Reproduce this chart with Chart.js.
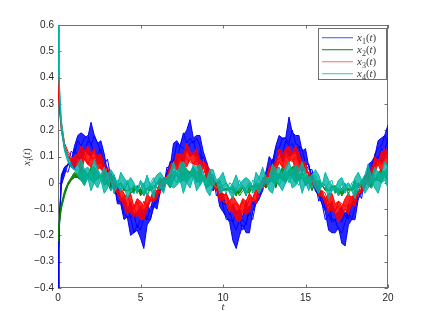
<!DOCTYPE html>
<html>
<head>
<meta charset="utf-8">
<script src="https://cdn.jsdelivr.net/npm/chart.js@4/dist/chart.umd.min.js"></script>
<style>
html,body{margin:0;padding:0;background:#fff;}
canvas{display:block;}
</style>
</head>
<body>
<canvas id="c" width="430" height="319"></canvas>
<script>
// time axis (t)
const times = [0,0.05,0.1,0.2,0.4,0.6,0.8,1,1.2,1.4,1.6,1.8,2,
2.2,2.4,2.6,2.8,3,3.2,3.4,3.6,3.8,4,
4.2,4.4,4.6,4.8,5,5.2,5.4,5.6,5.8,6,
6.2,6.4,6.6,6.8,7,7.2,7.4,7.6,7.8,8,
8.2,8.4,8.6,8.8,9,9.2,9.4,9.6,9.8,10,
10.2,10.4,10.6,10.8,11,11.2,11.4,11.6,11.8,12,
12.2,12.4,12.6,12.8,13,13.2,13.4,13.6,13.8,14,
14.2,14.4,14.6,14.8,15,15.2,15.4,15.6,15.8,16,
16.2,16.4,16.6,16.8,17,17.2,17.4,17.6,17.8,18,
18.2,18.4,18.6,18.8,19,19.2,19.4,19.6,19.8,20];

// series values, in units of 0.01 (several noisy runs per state)
const x1_run1 = [-40,-24,-13,
-1,3,7,6,5,10,7,13,11,10,
13,7,8,5,6,-2,-1,-1,-6,-6,
-11,-7,-12,-11,-9,-12,-8,-11,-4,-4,
-3,2,1,8,7,7,10,7,13,10,
11,10,6,10,4,5,-3,-1,-4,-4,
-9,-12,-8,-11,-10,-13,-7,-10,-7,-7,
-1,0,-2,6,5,7,12,8,12,10,
11,12,8,4,7,7,-1,-1,-1,-6,
-6,-11,-7,-12,-11,-9,-13,-8,-9,-4,
-6,-2,3,1,6,5,10,7,10,12];
const x1_run2 = [-40,-26,-15,
1,5,4,8,13,10,13,11,16,15,
11,11,13,6,3,4,0,-7,-7,-7,
-10,-13,-12,-17,-14,-10,-14,-9,-9,-3,
-3,-2,6,5,9,8,14,13,12,15,
16,11,11,6,8,4,-3,-1,-6,-8,
-8,-11,-15,-11,-15,-14,-16,-9,-8,-8,
-6,2,2,4,9,8,12,10,16,14,
15,12,14,8,7,7,1,0,-7,-5,
-10,-8,-14,-14,-13,-15,-11,-14,-7,-8,
-4,-6,2,2,6,10,9,13,12,17];
const x1_run3 = [-40,-23,-12,
2,6,7,12,11,16,14,17,18,14,
18,15,11,7,9,2,-4,-4,-6,-12,
-13,-13,-19,-16,-18,-13,-14,-14,-9,-7,
-1,-3,4,8,8,15,14,19,15,17,
15,17,14,7,7,3,3,-5,-3,-9,
-14,-14,-15,-18,-14,-18,-15,-11,-14,-7,
-4,-3,4,6,6,13,13,17,17,15,
20,15,14,13,7,5,5,-3,-4,-8,
-14,-12,-15,-14,-18,-19,-15,-11,-14,-9,
-6,-4,-2,6,4,11,13,14,18,15];
const x1_run4 = [-40,-25,-14,
3,6,7,8,14,18,19,18,17,23,
18,15,16,11,4,3,0,-8,-8,-14,
-13,-20,-19,-18,-21,-25,-16,-14,-9,-10,
-3,0,4,6,15,16,14,18,20,24,
17,18,18,12,8,2,2,-2,-9,-11,
-13,-15,-22,-25,-20,-16,-19,-19,-11,-8,
-6,-3,4,10,8,14,18,17,17,25,
19,18,18,12,13,6,3,-3,-5,-8,
-11,-18,-19,-19,-17,-23,-24,-16,-14,-14,
-6,-3,-1,7,8,10,16,17,18,22];

const x2_run1 = [-21,-17,-14,
-9,-4,-1,1,2,2,1,-1,2,1,
0,2,2,-1,0,-3,0,-2,0,-3,
-3,-2,-4,-1,-5,-3,-2,-3,-2,0,
-2,-1,0,-2,1,3,0,1,0,2,
3,0,1,1,-2,-1,0,-2,0,-2,
-3,-2,-3,-5,-2,-1,-3,-4,-1,-3,
-2,1,-2,0,1,-2,2,1,0,3,
2,0,1,2,-1,0,-3,0,-2,-1,
-3,-3,-1,-4,-2,-5,-3,-2,-3,-2,
0,-2,0,-1,-2,1,1,0,3,0];
const x2_run2 = [-22,-18,-15,
-10,-5,-1,1,3,2,1,4,2,5,
3,1,3,2,-1,2,-1,0,-1,-3,
0,-4,-3,-2,-4,-1,-5,-2,-1,-2,
-1,2,0,2,2,0,4,2,5,3,
2,4,0,2,3,0,0,0,-2,-1,
0,-3,-4,-2,-5,-3,-2,0,-3,-1,
0,-1,0,3,1,3,2,1,4,2,
3,4,1,2,4,0,1,0,-3,0,
-1,-3,-3,-2,-5,-2,-1,-4,-2,-3,
-1,0,-1,3,1,1,3,1,4,3];
const x2_run3 = [-20,-16,-13,
-8,-3,0,2,4,3,6,5,3,6,
6,4,2,4,1,2,3,-1,0,-2,
-3,-3,-1,-4,-2,-5,-2,-1,-2,0,
2,0,2,2,4,4,2,7,5,4,
6,4,5,2,3,4,0,0,1,-3,
-2,-3,-1,-3,-4,-2,-5,-1,-2,0,
-1,1,3,1,5,4,3,6,3,5,
6,7,3,4,2,3,2,-1,1,-1,
-2,-3,-2,-1,-4,-3,-2,-3,-2,1,
-2,1,1,1,5,1,4,5,4,6];

const x3_run1 = [40,33,28,
21,13,10,8,6,7,4,9,7,6,
8,5,6,2,2,3,-2,-4,-2,-4,
-6,-4,-9,-6,-7,-9,-4,-6,-3,-3,
1,-2,3,2,6,5,4,8,6,9,
7,7,3,6,2,3,0,-3,-1,-5,
-4,-7,-5,-7,-9,-6,-7,-4,-6,-3,
-3,1,1,0,5,4,8,6,5,8,
9,5,4,6,4,4,-1,1,-3,-3,
-6,-4,-4,-8,-7,-9,-6,-4,-6,-3,
-3,-3,1,4,2,4,7,4,8,6];
const x3_run2 = [40,35,29,
22,14,11,9,8,8,7,11,7,10,
8,9,5,6,1,1,1,-4,-6,-5,
-5,-8,-10,-7,-11,-7,-9,-6,-3,-5,
-1,-1,2,6,4,5,9,11,9,8,
7,9,9,4,4,0,2,-1,-4,-5,
-4,-10,-8,-8,-10,-7,-10,-6,-6,-2,
-2,-2,-1,5,5,5,8,6,11,9,
8,10,8,4,6,3,0,1,-5,-3,
-4,-8,-8,-11,-7,-8,-9,-8,-5,-7,
-4,0,0,1,2,6,9,7,9,11];
const x3_run3 = [40,34,30,
23,15,12,10,9,11,10,9,12,10,
9,11,7,4,6,0,0,-3,-7,-5,
-9,-11,-9,-13,-10,-10,-10,-6,-7,-3,
-4,2,2,5,8,6,11,9,12,11,
11,8,8,9,4,4,-2,-2,-2,-7,
-8,-7,-11,-13,-10,-11,-8,-10,-6,-7,
-1,-1,0,5,4,9,9,11,10,9,
11,11,11,6,4,4,2,-2,-1,-5,
-6,-11,-10,-10,-9,-12,-10,-11,-7,-4,
-5,-2,2,0,6,7,7,12,10,9];
const x3_run4 = [40,32,27,
20,13,10,9,10,11,14,12,14,11,
13,9,11,7,3,3,-3,-2,-6,-9,
-12,-11,-13,-11,-14,-14,-10,-7,-7,-6,
-1,0,1,7,7,11,11,10,15,12,
11,13,8,8,7,5,-1,-2,-7,-6,
-7,-11,-11,-14,-15,-11,-12,-11,-6,-8,
-4,0,1,6,7,7,13,11,13,14,
11,14,11,8,8,2,2,1,-5,-5,
-8,-11,-10,-12,-15,-13,-10,-12,-8,-9,
-3,-4,1,3,4,10,8,11,13,12];

const x4_run1 = [60,44,34,
22,13,9,6,5,3,1,-1,2,-3,
0,-2,1,-4,-2,1,-4,-1,-3,-1,
-6,-3,-1,-4,0,-5,-3,-2,-6,0,
-2,-4,1,-1,-2,-1,1,-4,0,-2,
2,-3,-1,1,-3,-5,-1,1,-4,-3,
-1,-4,-6,-2,-3,-1,-5,0,-4,-2,
-4,-1,1,-3,-4,1,-1,-3,0,2,
-2,-1,1,-4,0,-3,1,-2,-4,-1,
-1,-6,-3,-2,-5,0,-4,-1,-3,-6,
-1,0,-4,-2,1,-2,-4,0,1,-2];
const x4_run2 = [60,46,36,
24,14,10,7,5,5,2,4,1,3,
0,5,1,0,3,-3,1,1,-3,-1,
1,-3,-4,-1,-2,0,-5,0,2,-2,
-2,1,0,-2,3,5,1,2,0,3,
2,4,-1,2,0,3,0,-2,0,-2,
-4,0,-1,-3,1,-2,-4,-3,1,0,
2,-2,0,2,0,3,-1,2,5,0,
3,1,-1,3,1,2,-2,3,-2,-1,
-2,0,1,-4,-2,-3,0,-5,0,1,
-3,0,1,-1,-2,3,3,1,2,5];
const x4_run3 = [60,42,32,
20,12,8,6,5,7,9,5,6,4,
9,5,3,6,3,5,3,-1,4,2,
0,2,0,-3,1,-1,3,-1,1,3,
4,2,2,4,8,3,7,8,5,3,
7,6,7,4,1,5,5,1,2,4,
0,-2,0,3,-1,1,2,1,-2,4,
2,6,2,2,7,5,6,3,6,8,
4,7,5,8,4,2,3,5,3,-1,
4,1,-1,-2,1,2,-1,0,-2,2,
4,1,3,7,2,6,4,3,8,6];

const seriesNames = ['x1(t)','x2(t)','x3(t)','x4(t)'];
const xTickLabels = ['0','5','10','15','20'];
const yTickLabels = ['\u22120.4','\u22120.3','\u22120.2','\u22120.1','0','0.1','0.2','0.3','0.4','0.5','0.6'];

const COLORS = ['#0000ff','#008000','#ff0000','#00b4a4'];
const BAND = ['rgba(0,0,255,0.85)','rgba(0,128,0,0.85)','rgba(255,0,0,0.85)','rgba(0,180,164,0.8)'];
const LEGEND_COLORS = ['#6f78ff','#4c9c4c','#ff8c8c','#52d8cc'];
const groups = [
  {runs:[x1_run1,x1_run2,x1_run3,x1_run4], order:4},
  {runs:[x2_run1,x2_run2,x2_run3], order:3},
  {runs:[x3_run1,x3_run2,x3_run3,x3_run4], order:2},
  {runs:[x4_run1,x4_run2,x4_run3], order:1}
];
const datasets = [];
groups.forEach((g,gi)=>{
  const first = datasets.length;
  g.runs.forEach((r,ri)=>{
    const last = ri === g.runs.length-1;
    datasets.push({
      label: seriesNames[gi]+'#'+ri,
      data: times.map((t,i)=>({x:t, y:r[i]*0.01})),
      borderColor: COLORS[gi],
      backgroundColor: BAND[gi],
      borderWidth: 1,
      pointRadius: 0,
      tension: 0,
      fill: last ? {target:first} : false,
      order: g.order
    });
  });
});

const AX = '#707070';
const TXT = '#262626';

function mathLabel(ctx, x, y, sub, size, measureOnly){
  const it = 'italic ' + size + 'px "Liberation Serif", "DejaVu Serif", serif';
  const up = size + 'px "Liberation Serif", "DejaVu Serif", serif';
  const subF = 'italic ' + Math.round(size*0.7) + 'px "Liberation Serif", "DejaVu Serif", serif';
  const subU = Math.round(size*0.7) + 'px "Liberation Serif", "DejaVu Serif", serif';
  const parts = [
    {t:'x', f:it, dy:0},
    {t:sub, f:(sub==='i'?subF:subU), dy:size*0.28},
    {t:'(', f:up, dy:0},
    {t:'t', f:it, dy:0},
    {t:')', f:up, dy:0}
  ];
  let w = 0;
  parts.forEach(p=>{ ctx.font=p.f; p.w=ctx.measureText(p.t).width; w+=p.w; });
  if(measureOnly) return w;
  let cx = x;
  parts.forEach(p=>{ ctx.font=p.f; ctx.fillText(p.t, cx, y+p.dy); cx+=p.w; });
  return w;
}

const framePlugin = {
  id:'framePlugin',
  beforeDatasetsDraw(chart){
    const {ctx, chartArea:a, scales} = chart;
    ctx.save();
    ctx.strokeStyle = AX; ctx.lineWidth = 1;
    ctx.strokeRect(a.left+0.5, a.top+0.5, a.right-a.left-1, a.bottom-a.top-1);
    const L = 3.5;
    ctx.beginPath();
    scales.x.ticks.forEach(tk=>{
      const px = Math.round(scales.x.getPixelForValue(tk.value))+0.5;
      ctx.moveTo(px, a.bottom); ctx.lineTo(px, a.bottom-L);
      ctx.moveTo(px, a.top); ctx.lineTo(px, a.top+L);
    });
    scales.y.ticks.forEach(tk=>{
      const py = Math.round(scales.y.getPixelForValue(tk.value))+0.5;
      ctx.moveTo(a.left, py); ctx.lineTo(a.left+L, py);
      ctx.moveTo(a.right, py); ctx.lineTo(a.right-L, py);
    });
    ctx.stroke();
    ctx.restore();
  },
  afterDraw(chart){
    const {ctx, chartArea:a} = chart;
    ctx.save();
    ctx.globalAlpha = 1;
    ctx.fillStyle = '#3a3a3a';
    ctx.textBaseline = 'alphabetic';
    ctx.font = 'italic 11px "Liberation Serif", "DejaVu Serif", serif';
    ctx.textAlign = 'center';
    ctx.fillText('t', (a.left+a.right)/2, 310);
    ctx.textAlign = 'left';
    ctx.save();
    ctx.translate(30, 157);
    ctx.rotate(-Math.PI/2);
    const w = mathLabel(ctx, 0, 0, 'i', 11, true);
    mathLabel(ctx, -w/2, 0, 'i', 11, false);
    ctx.restore();
    // legend box
    const bx = 318.5, by = 28.5, bw = 68, bh = 51;
    ctx.fillStyle = '#ffffff';
    ctx.fillRect(bx, by, bw, bh);
    ctx.strokeStyle = AX; ctx.lineWidth = 1;
    ctx.strokeRect(bx, by, bw, bh);
    const subs = ['1','2','3','4'];
    for(let i=0;i<4;i++){
      const yy = 37 + i*12;
      ctx.fillStyle = LEGEND_COLORS[i];
      ctx.fillRect(322, yy, 31, 1.3);
      ctx.fillStyle = '#3a3a3a';
      mathLabel(ctx, 357, yy+4, subs[i], 11, false);
    }
    ctx.restore();
  }
};

new Chart(document.getElementById('c'), {
  type:'line',
  data:{datasets},
  options:{
    responsive:false,
    devicePixelRatio:1,
    animation:false,
    events:[],
    layout:{padding:{top:25,right:42,bottom:0,left:0}},
    plugins:{legend:{display:false}, tooltip:{enabled:false}},
    scales:{
      x:{
        type:'linear', min:0, max:20,
        afterFit(s){ s.height = 31; },
        afterBuildTicks(s){ s.ticks = xTickLabels.map(v=>({value:Number(v)})); },
        grid:{display:false, drawTicks:false},
        border:{display:false},
        ticks:{
          padding:4, color:TXT, maxRotation:0, autoSkip:false,
          font:{family:'"Liberation Sans", Arial, sans-serif', size:10},
          callback:(v,i)=>xTickLabels[i]
        }
      },
      y:{
        type:'linear', min:-0.4, max:0.6,
        afterFit(s){ s.width = 58; },
        afterBuildTicks(s){ s.ticks = yTickLabels.map((l,i)=>({value:-0.4+i*0.1})); },
        grid:{display:false, drawTicks:false},
        border:{display:false},
        ticks:{
          padding:4, color:TXT, autoSkip:false,
          font:{family:'"Liberation Sans", Arial, sans-serif', size:10},
          callback:(v,i)=>yTickLabels[i]
        }
      }
    }
  },
  plugins:[framePlugin]
});
</script>
</body>
</html>
